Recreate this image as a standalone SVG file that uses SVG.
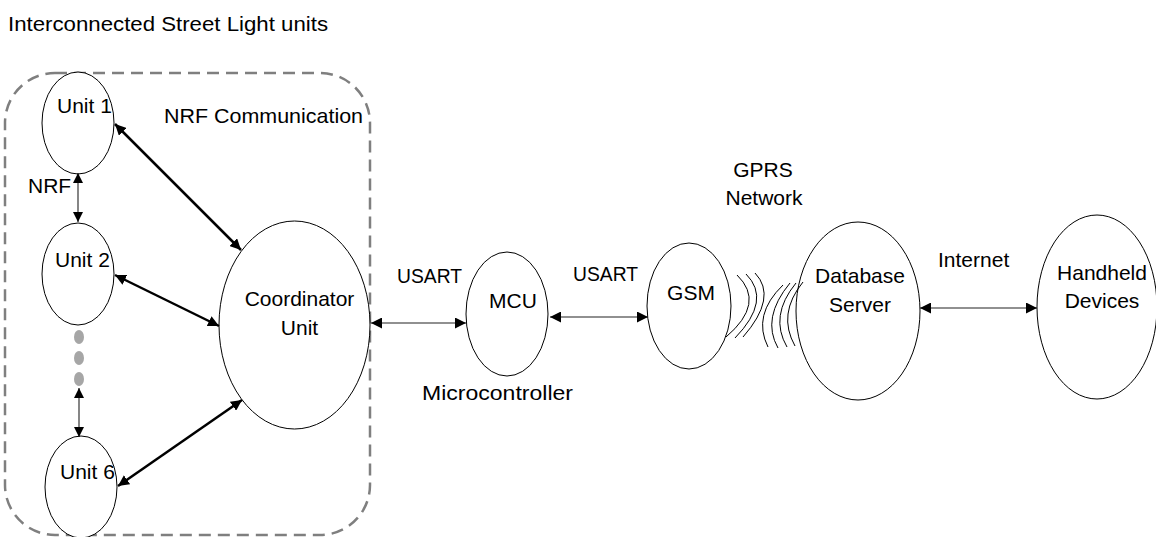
<svg xmlns="http://www.w3.org/2000/svg" width="1156" height="537" viewBox="0 0 1156 537">
<style>
text{font-family:"Liberation Sans",Arial,sans-serif;font-size:21px;fill:#000}
.c{text-anchor:middle}
.node{fill:#fff;stroke:#000;stroke-width:1}
.thick{stroke:#000;stroke-width:2.5;fill:none}
.thin{stroke:#222;stroke-width:1.1;fill:none}
.wave{stroke:#000;stroke-width:1;fill:none}
.dot{fill:#a6a6a6}
</style>
<defs>
<marker id="ah" viewBox="0 0 10 10" refX="10" refY="5" markerWidth="11" markerHeight="11" markerUnits="userSpaceOnUse" orient="auto-start-reverse"><path d="M0,0 L10,5 L0,10 z" fill="#000"/></marker>
<marker id="ahs" viewBox="0 0 10 10" refX="10" refY="5" markerWidth="10" markerHeight="10" markerUnits="userSpaceOnUse" orient="auto-start-reverse"><path d="M0,0 L10,5 L0,10 z" fill="#000"/></marker>
</defs>
<rect width="1156" height="537" fill="#fff"/>
<text x="8" y="31" textLength="320" lengthAdjust="spacingAndGlyphs">Interconnected Street Light units</text>
<g id="group-box">
<rect x="5" y="73" width="365" height="462" rx="50" ry="50" fill="none" stroke="#7f7f7f" stroke-width="2.5" stroke-dasharray="12 7"/>
<text x="164" y="123" textLength="199" lengthAdjust="spacingAndGlyphs">NRF Communication</text>
</g>
<g id="unit1"><ellipse class="node" cx="78" cy="123" rx="36" ry="51"/><text x="57" y="113">Unit 1</text></g>
<g id="unit2"><ellipse class="node" cx="78" cy="274" rx="36" ry="51"/><text x="55" y="267">Unit 2</text></g>
<g id="unit6"><ellipse class="node" cx="81" cy="487" rx="36" ry="51"/><text x="60" y="479">Unit 6</text></g>
<g id="dots"><ellipse class="dot" cx="79" cy="337" rx="5" ry="7"/><ellipse class="dot" cx="79" cy="358" rx="5" ry="7"/><ellipse class="dot" cx="79" cy="379" rx="5" ry="7"/></g>
<g id="coordinator"><ellipse class="node" cx="294.5" cy="325" rx="75.5" ry="104"/><text class="c" x="299.5" y="306">Coordinator</text><text class="c" x="299.5" y="335">Unit</text></g>
<g id="mcu"><ellipse class="node" cx="507" cy="314" rx="41" ry="62"/><text class="c" x="513" y="308">MCU</text><text x="422" y="400" textLength="151" lengthAdjust="spacingAndGlyphs">Microcontroller</text></g>
<g id="gsm"><ellipse class="node" cx="689" cy="306" rx="42" ry="63"/><text class="c" x="691" y="300">GSM</text></g>
<g id="database"><ellipse class="node" cx="858" cy="311" rx="62" ry="89"/><text class="c" x="860" y="283">Database</text><text class="c" x="860" y="312">Server</text></g>
<g id="handheld"><ellipse class="node" cx="1097" cy="307" rx="60" ry="92"/><text class="c" x="1102" y="280">Handheld</text><text class="c" x="1102" y="308">Devices</text></g>
<g id="connectors">
<line class="thick" x1="115" y1="124" x2="241" y2="250" marker-start="url(#ah)" marker-end="url(#ah)"/>
<line class="thick" x1="115" y1="275" x2="219" y2="326" marker-start="url(#ah)" marker-end="url(#ah)"/>
<line class="thick" x1="118" y1="486" x2="242" y2="400" marker-start="url(#ah)" marker-end="url(#ah)"/>
<line class="thin" x1="78" y1="173" x2="78" y2="222" marker-start="url(#ahs)" marker-end="url(#ahs)"/>
<line class="thin" x1="79" y1="388" x2="79" y2="437" marker-start="url(#ahs)" marker-end="url(#ahs)"/>
<line class="thin" x1="371" y1="323" x2="466" y2="323" marker-start="url(#ah)" marker-end="url(#ah)"/>
<line class="thin" x1="550" y1="317" x2="648" y2="317" marker-start="url(#ah)" marker-end="url(#ah)"/>
<line class="thin" x1="920" y1="308" x2="1037" y2="308" marker-start="url(#ah)" marker-end="url(#ah)"/>
<path class="wave" d="M737,275 Q766,303 726,337"/>
<path class="wave" d="M746,274 Q772,300 735,338"/>
<path class="wave" d="M755,273 Q778,297 743,337"/>
<path class="wave" d="M783,285 Q752,315 768,347"/>
<path class="wave" d="M790,283 Q761,318 778,348"/>
<path class="wave" d="M796,283 Q769,316 787,347"/>
<path class="wave" d="M803,282 Q777,314 795,346"/>
<text x="28" y="193">NRF</text>
<text x="397" y="283" textLength="65" lengthAdjust="spacingAndGlyphs">USART</text>
<text x="573" y="281" textLength="65" lengthAdjust="spacingAndGlyphs">USART</text>
<text class="c" x="763" y="177">GPRS</text>
<text class="c" x="764" y="205">Network</text>
<text x="938" y="267">Internet</text>
</g>
</svg>
